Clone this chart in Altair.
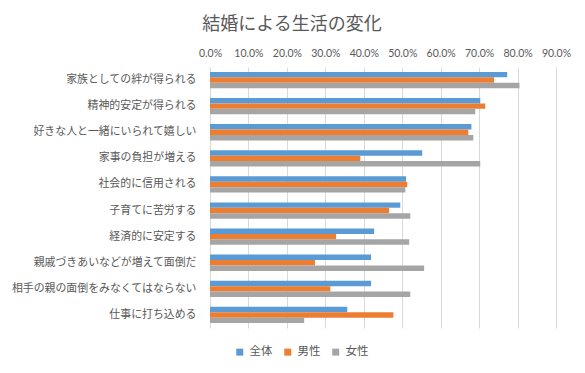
import altair as alt
import pandas as pd

categories = [
    "家族としての絆が得られる",
    "精神的安定が得られる",
    "好きな人と一緒にいられて嬉しい",
    "家事の負担が増える",
    "社会的に信用される",
    "子育てに苦労する",
    "経済的に安定する",
    "親戚づきあいなどが増えて面倒だ",
    "相手の親の面倒をみなくてはならない",
    "仕事に打ち込める",
]
series = ["全体", "男性", "女性"]
total = [77.3, 70.3, 68.0, 55.2, 51.0, 49.5, 42.7, 41.9, 41.9, 35.7]
male = [73.9, 71.6, 67.2, 39.1, 51.3, 46.6, 32.8, 27.3, 31.3, 47.7]
female = [80.5, 69.0, 68.5, 70.3, 50.8, 52.1, 51.8, 55.7, 52.1, 24.5]
colors = ["#5B9BD5", "#ED7D31", "#A5A5A5"]
x_ticks = [0, 10, 20, 30, 40, 50, 60, 70, 80, 90]

rows = []
for name, vals in zip(series, [total, male, female]):
    for c, v in zip(categories, vals):
        rows.append({"category": c, "series": name, "value": v})
df = pd.DataFrame(rows)

font = "Noto Sans CJK JP"
txt = "#595959"

chart = alt.Chart(df).mark_bar().encode(
    x=alt.X(
        "value:Q",
        scale=alt.Scale(domain=[0, 90], nice=False),
        axis=alt.Axis(
            orient="top", values=x_ticks,
            labelExpr="format(datum.value, '.1f') + '%'",
            labelOverlap=False, labelFlush=False,
            title=None, domain=False, ticks=False, grid=True,
            gridColor="#D9D9D9", labelPadding=9, labelFontSize=10.5,
            labelColor=txt, labelFont="Lato",
        ),
    ),
    y=alt.Y(
        "category:N", sort=categories,
        scale=alt.Scale(paddingInner=0.375, paddingOuter=0.1875),
        axis=alt.Axis(
            title=None, domain=False, ticks=False, labelPadding=14,
            labelFontSize=10.9, labelColor=txt, labelLimit=300, labelFont=font,
        ),
    ),
    yOffset=alt.YOffset("series:N", sort=series,
                        scale=alt.Scale(paddingInner=0, paddingOuter=0)),
    color=alt.Color(
        "series:N", sort=series,
        scale=alt.Scale(domain=series, range=colors),
        legend=alt.Legend(
            title=None, orient="none", direction="horizontal",
            legendX=24, legendY=279, symbolType="square", symbolSize=49,
            labelFontSize=11.5, labelColor=txt, labelFont=font,
            columnPadding=9, symbolStrokeWidth=0,
        ),
    ),
).properties(
    width=346, height=261,
    autosize=alt.AutoSizeParams(type="none"),
    padding={"left": 202, "top": 59, "right": 21, "bottom": 37},
    title=alt.TitleParams(
        "結婚による生活の変化", font=font, fontSize=18, fontWeight="normal",
        color=txt, anchor="middle", dx=-91, offset=14,
    ),
).configure_view(stroke=None)

chart.save("out.html", embed_options={"renderer": "svg", "actions": False})
